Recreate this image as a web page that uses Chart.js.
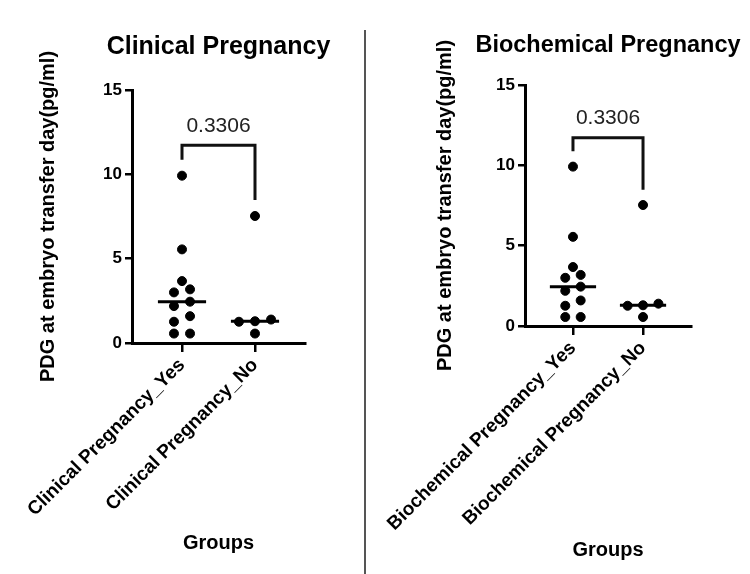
<!DOCTYPE html>
<html>
<head>
<meta charset="utf-8">
<script src="https://cdn.jsdelivr.net/npm/chart.js"></script>
<style>
  html, body { margin: 0; padding: 0; background: #fff; }
  body { width: 750px; height: 574px; position: relative; overflow: hidden; }
  .panel { position: absolute; top: 0; height: 574px; }
  #left { left: 0; width: 365px; }
  #right { left: 366px; width: 384px; }
  #divider { position: absolute; left: 364px; top: 30px; width: 2px; height: 544px; background: #555; }
</style>
</head>
<body>
<div class="panel" id="left"><canvas id="clinical" width="365" height="574"></canvas></div>
<div id="divider"></div>
<div class="panel" id="right"><canvas id="biochem" width="384" height="574"></canvas></div>

<script>
// values (pg/ml)
const clinicalYes = [9.92, 5.55, 3.67, 3.18, 3.0, 2.45, 2.19, 1.59, 1.26, 0.56, 0.56];
const clinicalNo = [7.53, 1.39, 1.29, 1.26, 0.56];
const biochemYes = [9.92, 5.55, 3.67, 3.18, 3.0, 2.45, 2.19, 1.59, 1.26, 0.56, 0.56];
const biochemNo = [7.53, 1.39, 1.29, 1.26, 0.56];

const clinicalLabels = ['Clinical Pregnancy_Yes', 'Clinical Pregnancy_No'];
const biochemLabels = ['Biochemical Pregnancy_Yes', 'Biochemical Pregnancy_No'];
const yTicks = [0, 5, 10, 15];
const pValue = '0.3306';
const yTitle = 'PDG at embryo transfer day(pg/ml)';
const xTitle = 'Groups';

const FONT = 'Liberation Sans, Arial, sans-serif';

function median(arr) {
    const s = arr.slice().sort((a, b) => a - b);
    const m = Math.floor(s.length / 2);
    return s.length % 2 ? s[m] : (s[m - 1] + s[m]) / 2;
}

// simple dot-plot layout: values close together are spread side by side
function swarm(values, center) {
    const gap = 0.45, step = 0.22;
    const sorted = values.slice().sort((a, b) => a - b);
    const groups = [];
    sorted.forEach(v => {
        const g = groups[groups.length - 1];
        if (g && v - g[g.length - 1] < gap) g.push(v);
        else groups.push([v]);
    });
    const pts = [];
    groups.forEach(g => {
        g.forEach((v, k) => {
            pts.push({x: center + (k - (g.length - 1) / 2) * step, y: v});
        });
    });
    return pts;
}

// p value over the bracket, and the chart title centred over the plot area
const textPlugin = {
    id: 'texts',
    afterDatasetsDraw(chart, args, opts) {
        const ctx = chart.ctx;
        const xs = chart.scales.x, ys = chart.scales.y;
        const area = chart.chartArea;
        ctx.save();
        ctx.textAlign = 'center';
        ctx.textBaseline = 'middle';
        ctx.fillStyle = '#222';
        ctx.font = '21px ' + FONT;
        ctx.fillText(opts.p, xs.getPixelForValue(1.5), ys.getPixelForValue(opts.top) - 19);
        const tb = chart.titleBlock;
        ctx.fillStyle = '#000';
        ctx.font = 'bold ' + opts.titleSize + 'px ' + FONT;
        ctx.fillText(opts.title, (area.left + area.right) / 2, tb.top + tb.options.padding.top + 15);
        ctx.restore();
    }
};

function buildChart(id, title, labels, yes, no, box) {
    const all = yes.concat(no);
    const top = Math.max(...all) + 1.8;
    const legYes = Math.max(...yes) + 0.95;
    const legNo = Math.max(...no) + 0.95;
    const medYes = median(yes), medNo = median(no);
    const half = 0.33;

    const ctx = document.getElementById(id).getContext('2d');
    return new Chart(ctx, {
        type: 'scatter',
        data: {
            datasets: [
                {data: swarm(yes, 1), backgroundColor: '#000', borderColor: '#000', pointRadius: 4.5},
                {data: swarm(no, 2), backgroundColor: '#000', borderColor: '#000', pointRadius: 4.5},
                {data: [{x: 1 - half, y: medYes}, {x: 1 + half, y: medYes}], showLine: true,
                    borderColor: '#000', borderWidth: 3, pointRadius: 0},
                {data: [{x: 2 - half, y: medNo}, {x: 2 + half, y: medNo}], showLine: true,
                    borderColor: '#000', borderWidth: 3, pointRadius: 0},
                {data: [{x: 1, y: legYes}, {x: 1, y: top}, {x: 2, y: top}, {x: 2, y: legNo}], showLine: true,
                    borderColor: '#111', borderWidth: 3, pointRadius: 0, tension: 0}
            ]
        },
        options: {
            responsive: false,
            animation: false,
            layout: {padding: {left: 0, right: box.w - box.right, top: 0, bottom: 0}},
            plugins: {
                legend: {display: false},
                tooltip: {enabled: false},
                // keeps the space; the text itself is drawn by textPlugin
                title: {
                    display: true, text: title, color: 'rgba(0,0,0,0)',
                    font: {family: FONT, size: 25, weight: 'bold'},
                    padding: {top: box.titleY - 15, bottom: box.top - box.titleY - 15}
                },
                texts: {p: pValue, top: top, title: title, titleSize: box.titleSize}
            },
            scales: {
                x: {
                    type: 'linear', min: 0.315, max: 2.685,
                    afterBuildTicks: s => { s.ticks = [{value: 1}, {value: 2}]; },
                    afterFit: s => {
                        s.height = 574 - box.bottom;
                        s.paddingLeft = 0;
                        s.paddingRight = 0;
                    },
                    ticks: {
                        color: '#000', minRotation: 45, maxRotation: 45, padding: 2,
                        font: {family: FONT, size: 19, weight: 'bold'},
                        callback: v => labels[v - 1]
                    },
                    grid: {drawOnChartArea: false, drawTicks: true, tickLength: 9, color: '#000', lineWidth: 2.5},
                    border: {display: true, color: '#000', width: 3},
                    title: {
                        display: true, text: xTitle, color: '#000',
                        font: {family: FONT, size: 20, weight: 'bold'},
                        padding: {top: 0, bottom: box.groupsPad}
                    }
                },
                y: {
                    min: 0, max: 15,
                    afterBuildTicks: s => { s.ticks = yTicks.map(v => ({value: v})); },
                    afterFit: s => { s.width = box.left; },
                    ticks: {
                        color: '#000', padding: 3,
                        font: {family: FONT, size: 17, weight: 'bold'}
                    },
                    grid: {drawOnChartArea: false, drawTicks: true, tickLength: 7, color: '#000', lineWidth: 2.5},
                    border: {display: true, color: '#000', width: 3},
                    title: {
                        display: true, text: yTitle, color: '#000',
                        font: {family: FONT, size: 20, weight: 'bold'},
                        padding: {top: box.yTitleX - 12, bottom: 0}
                    }
                }
            }
        },
        plugins: [textPlugin]
    });
}

buildChart('clinical', 'Clinical Pregnancy', clinicalLabels, clinicalYes, clinicalNo,
    {w: 365, left: 132, right: 305, top: 90, bottom: 343, titleY: 47, titleSize: 25,
     yTitleX: 48, groupsPad: 19});
buildChart('biochem', 'Biochemical Pregnancy', biochemLabels, biochemYes, biochemNo,
    {w: 384, left: 159, right: 325, top: 85, bottom: 326, titleY: 46, titleSize: 23.5,
     yTitleX: 79, groupsPad: 12});
</script>
</body>
</html>
